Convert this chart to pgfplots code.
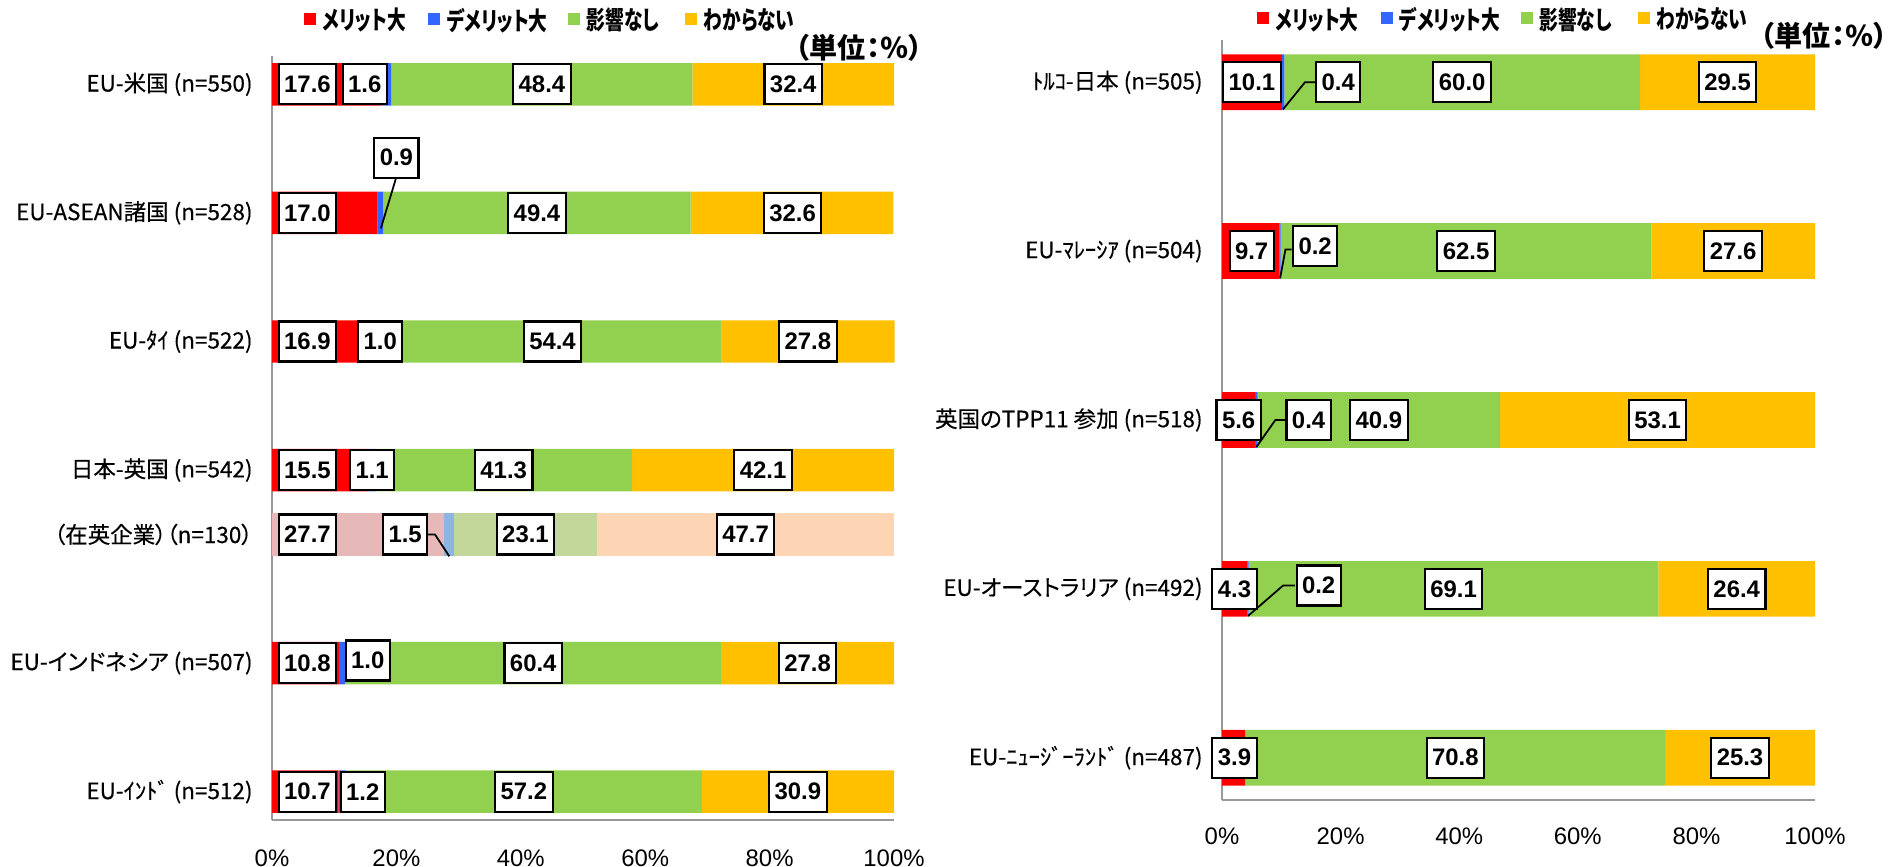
\documentclass[border=0pt]{standalone}
\usepackage{graphicx}
\usepackage{pgfplots}
\usepackage{pgfplotstable}
\pgfplotsset{compat=1.18}
\usepackage{fontspec}
\setmainfont{Noto Sans CJK JP}[CharacterWidth=AlternateProportional]
\newfontfamily\catjp{Noto Sans CJK JP}[CharacterWidth=AlternateProportional, FakeBold=0.4]
\newfontfamily\numfont{Liberation Sans}

\definecolor{cRed}{HTML}{FF0000}
\definecolor{cBlue}{HTML}{3366FF}
\definecolor{cGreen}{HTML}{92D050}
\definecolor{cYel}{HTML}{FFC000}
\definecolor{fRed}{HTML}{E6B8B7}
\definecolor{fBlue}{HTML}{8DB4E2}
\definecolor{fGreen}{HTML}{C4D79B}
\definecolor{fYel}{HTML}{FCD5B4}

\newcommand\catfont{\catjp\fontsize{6.4}{7.6}\selectfont}
\newcommand\tickfont{\numfont\fontsize{6.8}{8}\selectfont}
\newcommand\lblfont{\numfont\bfseries\fontsize{6.8}{8}\selectfont}
\newcommand\legfont{\bfseries\fontsize{7.2}{8.4}\selectfont}
\newcommand\unitfont{\bfseries\fontsize{8}{9.4}\selectfont}
\newcommand\legtxt[2]{\makebox[#1][l]{\hspace{0.7mm}\scalebox{0.74}[1]{#2}}}

% left panel: m=merit, d=demerit, n=no effect, u=unknown; f* = (在英企業) row
\pgfplotstableread{
y     m    d    n    u    fm   fd  fn   fu
0     17.6 1.6  48.4 32.4 0    0   0    0
-1    17.0 0.9  49.4 32.6 0    0   0    0
-2    16.9 1.0  54.4 27.8 0    0   0    0
-3    15.5 1.1  41.3 42.1 0    0   0    0
-3.5  0    0    0    0    27.7 1.5 23.1 47.7
-4.5  10.8 1.0  60.4 27.8 0    0   0    0
-5.5  10.7 1.2  57.2 30.9 0    0   0    0
}\leftdata

\pgfplotstableread{
y   m    d   n    u
0   10.1 0.4 60.0 29.5
-1  9.7  0.2 62.5 27.6
-2  5.6  0.4 40.9 53.1
-3  4.3  0.2 69.1 26.4
-4  3.9  0   70.8 25.3
}\rightdata

\pgfplotstableread{
x     y     t
5.7   0     17.6
14.9  0     1.6
43.4  0     48.4
83.8  0     32.4
5.7   -1    17.0
20.0  -0.57 0.9
42.6  -1    49.4
83.7  -1    32.6
5.7   -2    16.9
17.4  -2    1.0
45.1  -2    54.4
86.15 -2    27.8
5.7   -3    15.5
16.1  -3    1.1
37.25 -3    41.3
78.95 -3    42.1
5.7   -3.5  27.7
21.4  -3.5  1.5
40.75 -3.5  23.1
76.15 -3.5  47.7
5.7   -4.5  10.8
15.4  -4.48 1.0
42.0  -4.5  60.4
86.1  -4.5  27.8
5.7   -5.5  10.7
14.6  -5.5  1.2
40.5  -5.5  57.2
84.55 -5.5  30.9
}\leftlab

\pgfplotstableread{
x     y     t
5.05  0     10.1
19.6  0     0.4
40.5  0     60.0
85.25 0     29.5
5.0   -1    9.7
15.7  -0.97 0.2
41.15 -1    62.5
86.2  -1    27.6
2.8   -2    5.6
14.6  -2    0.4
26.45 -2    40.9
73.45 -2    53.1
2.1   -3    4.3
16.3  -2.98 0.2
39.05 -3    69.1
86.8  -3    26.4
2.1   -4    3.9
39.35 -4    70.8
87.35 -4    25.3
}\rightlab

\tikzset{
  lblbox/.style={anchor=center, fill=white, draw=black, line width=0.6pt,
    inner xsep=0.55mm, inner ysep=0pt, minimum height=4mm, font=\lblfont, text=black},
}
\pgfplotsset{
  sqleg/.style={legend image code/.code={\fill[##1] (0mm,-0.35mm) rectangle (1.2mm,0.85mm);}},
  panel/.style={scale only axis, xmin=0, xmax=100, xbar stacked, bar width=0.33,
    axis x line*=bottom, axis y line*=left,
    axis line style={draw=black!40, line width=0.7pt, -},
    major tick length=0pt,
    xtick={0,20,40,60,80,100}, xticklabels={0\%,20\%,40\%,60\%,80\%,100\%},
    xticklabel style={font=\tickfont},
    yticklabel style={font=\catfont, xshift=-0.7mm},
    legend columns=4, legend cell align=left,
    legend style={draw=none, fill=none, inner sep=0pt, font=\legfont,
      nodes={inner xsep=0mm, inner ysep=0.3mm}},
    clip=false},
  over/.style={scale only axis, xmin=0, xmax=100, axis lines=none, ticks=none, clip=false},
  lead/.style={black, line width=0.5pt, mark=none},
  labs/.style={draw=none, mark=none, nodes near coords, point meta=explicit symbolic,
    every node near coord/.append style={lblbox}},
}
\newcommand\legentries{\legend{\legtxt{11.2mm}{メリット大},\legtxt{12.8mm}{デメリット大},
  \legtxt{10.5mm}{影響なし},\legtxt{9.7mm}{わからない}}}

\begin{document}
\begin{tikzpicture}
\path[use as bounding box] (0,0) rectangle (188.8mm,86.7mm);

% ---------- left panel ----------
\begin{axis}[panel, at={(27.2mm,4.7mm)}, anchor=south west,
  width=62.2mm, height=76.4mm, ymin=-5.72, ymax=0.22,
  xticklabel style={yshift=-1.7mm},
  ytick={0,-1,-2,-3,-3.5,-4.5,-5.5},
  yticklabels={{EU-米国 (n=550)},{EU-ASEAN諸国 (n=528)},{EU-ﾀｲ (n=522)},{日本-英国 (n=542)},
    {（在英企業）（n=130）},{EU-インドネシア (n=507)},{EU-ｲﾝﾄﾞ (n=512)}},
  legend style={at={(0.05,1.045)}, anchor=west}]
\addplot[fill=cRed, draw=none, sqleg] table[x=m, y=y] \leftdata;
\addplot[fill=cBlue, draw=none, sqleg] table[x=d, y=y] \leftdata;
\addplot[fill=cGreen, draw=none, sqleg] table[x=n, y=y] \leftdata;
\addplot[fill=cYel, draw=none, sqleg] table[x=u, y=y] \leftdata;
\addplot[fill=fRed, draw=none, forget plot] table[x=fm, y=y] \leftdata;
\addplot[fill=fBlue, draw=none, forget plot] table[x=fd, y=y] \leftdata;
\addplot[fill=fGreen, draw=none, forget plot] table[x=fn, y=y] \leftdata;
\addplot[fill=fYel, draw=none, forget plot] table[x=fu, y=y] \leftdata;
\legentries
\end{axis}
\begin{axis}[over, at={(27.2mm,4.7mm)}, anchor=south west,
  width=62.2mm, height=76.4mm, ymin=-5.72, ymax=0.22]
\addplot[lead] coordinates {(20.0,-0.72) (17.5,-1.12)};
\addplot[lead] coordinates {(25.1,-3.5) (26.2,-3.5) (28.5,-3.67)};
\addplot[labs] table[x=x, y=y, meta=t] \leftlab;
\end{axis}
\node[anchor=east, font=\unitfont, inner sep=0pt] at (92.3mm,81.9mm) {（単位：％）};

% ---------- right panel ----------
\begin{axis}[panel, at={(122.2mm,6.7mm)}, anchor=south west,
  width=59.3mm, height=76mm, ymin=-4.25, ymax=0.25,
  xticklabel style={yshift=-1.5mm},
  ytick={0,-1,-2,-3,-4},
  yticklabels={{ﾄﾙｺ-日本 (n=505)},{EU-ﾏﾚｰｼｱ (n=504)},{英国のTPP11 参加 (n=518)},
    {EU-オーストラリア (n=492)},{EU-ﾆｭｰｼﾞｰﾗﾝﾄﾞ (n=487)}},
  legend style={at={(0.057,1.025)}, anchor=west}]
\addplot[fill=cRed, draw=none, sqleg] table[x=m, y=y] \rightdata;
\addplot[fill=cBlue, draw=none, sqleg] table[x=d, y=y] \rightdata;
\addplot[fill=cGreen, draw=none, sqleg] table[x=n, y=y] \rightdata;
\addplot[fill=cYel, draw=none, sqleg] table[x=u, y=y] \rightdata;
\legentries
\end{axis}
\begin{axis}[over, at={(122.2mm,6.7mm)}, anchor=south west,
  width=59.3mm, height=76mm, ymin=-4.25, ymax=0.25]
\addplot[lead] coordinates {(15.85,0) (14.0,0) (10.3,-0.16)};
\addplot[lead] coordinates {(11.75,-0.99) (10.7,-0.99) (9.8,-1.16)};
\addplot[lead] coordinates {(10.6,-2.0) (9.0,-2.0) (5.8,-2.16)};
\addplot[lead] coordinates {(12.3,-2.98) (10.3,-2.98) (4.4,-3.16)};
\addplot[labs] table[x=x, y=y, meta=t] \rightlab;
\end{axis}
\node[anchor=east, font=\unitfont, inner sep=0pt] at (188.8mm,83.1mm) {（単位：％）};
\end{tikzpicture}
\end{document}
